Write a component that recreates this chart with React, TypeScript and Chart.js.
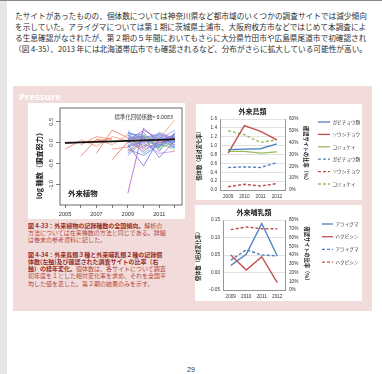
import React, { useEffect, useRef } from 'react';
import { Chart, registerables } from 'chart.js';

Chart.register(...registerables);

const JP = '"Noto Sans CJK JP", "Noto Sans", sans-serif';
const LATIN = '"Liberation Sans", "DejaVu Sans", sans-serif';

// ---------------- 本文 ----------------
const bodyLines = [
  'たサイトがあったものの、個体数については神奈川県など都市域のいくつかの調査サイトでは減少傾向',
  'を示していた。アライグマについては第１期に茨城県土浦市、大阪府枚方市などではじめて本調査によ',
  'る生息確認がなされたが、第２期の５年間においてもさらに大分県竹田市や広島県尾道市で初確認され',
  '（図 4-35）、2013 年には北海道帯広市でも確認されるなど、分布がさらに拡大している可能性が高い。',
];

// ---------------- 図 4-33：外来植物 ----------------
const plantTickYears = [2005, 2006, 2007, 2008, 2009, 2010, 2011, 2012];
const plantTickYearLabels = ['2005', '', '2007', '', '2009', '', '2011', ''];
const plantYTicks = [-1.0, -0.5, 0.0, 0.5];
const plantYTickLabels = ['-1.0', '-0.5', '0.0', '0.5'];
const plantAxisTitle = 'log 種数（調査努力）';
const plantCoefText = '標準化回帰係数= 0.0083';
const plantGroupLabel = '外来植物';

// 全国傾向（回帰直線）
const plantTrendYears = [2005, 2012];
const plantTrendValues = [0.0, 0.085];

// 第1期のサイト：開始年と各年の値
const firstPeriodStarts = [2005, 2005, 2006, 2006, 2007, 2007, 2008, 2008, 2006];
const firstPeriodValues = [
  [-0.15, 0.05],
  [-0.02, 0.02, 0.05, 0.1],
  [-0.32, 0.08, 0.02],
  [0.08, -0.08, 0.15, 0.05],
  [-0.25, 0.3, 0.12],
  [0.1, -0.05, 0.2],
  [-0.4, 0.02],
  [-0.15, -0.1, 0.05],
  [-0.05, 0.15, 0.08],
];
const firstPeriodColors = ['#ee7a68', '#f08a70', '#ec7060', '#f29a7c', '#ee7866', '#f4a482', '#ea6c5c', '#f09478', '#f2886c'];

// 第2期のサイト（2009〜2012年）
const secondPeriodYears = [2009, 2010, 2011, 2012];
const secondPeriodValues = [
  [-1.2, 0.35, 0.0, 0.1],
  [-0.05, -0.55, 0.1, 0.0],
  [0.1, 0.15, -0.35, 0.05],
  [0.2, 0.05, 0.1, -0.1],
  [-0.25, 0.1, -0.05, 0.15],
  [0.05, -0.2, 0.05, 0.2],
  [0.3, 0.0, 0.2, -0.15],
  [-0.1, 0.2, -0.15, 0.05],
  [0.15, -0.1, 0.25, 0.1],
  [-0.2, -0.05, 0.05, -0.2],
  [0.0, 0.25, -0.2, 0.25],
  [0.1, -0.15, 0.0, 0.12],
  [-0.3, 0.05, 0.15, -0.05],
  [0.25, 0.1, -0.1, 0.2],
  [-0.05, 0.0, 0.1, 0.3],
  [0.05, 0.1, 0.1, 0.55],
  [0.1, 0.15, 0.05, -0.1],
  [-0.1, 0.05, 0.2, 0.1],
  [0.2, -0.25, 0.0, 0.05],
  [0.05, 0.3, 0.1, -0.05],
  [-0.15, -0.3, -0.05, 0.15],
  [0.12, 0.0, -0.25, -0.2],
  [0.0, 0.12, 0.18, 0.08],
  [-0.08, 0.08, -0.12, 0.18],
  [0.18, 0.02, 0.08, 0.14],
  [-0.12, 0.16, 0.02, -0.08],
  [0.08, -0.06, -0.1, 0.22],
  [-0.2, 0.12, 0.22, 0.02],
  [0.22, 0.18, -0.04, -0.12],
  [0.02, -0.12, 0.14, 0.06],
];
const secondPeriodColors = [
  '#a45ad0', '#6a6ae8', '#7b70d8', '#8fa0e8', '#5a8ad8', '#a07ad8', '#7ac0e0', '#7cd07c',
  '#8c84e0', '#e0d060', '#6f7fe4', '#f08080', '#8080f0', '#6060c8', '#a0a0f0', '#f4a070',
  '#80c080', '#9a88dc', '#60c0d8', '#9070d0', '#7080e0', '#c090e0', '#70a0e0', '#a8d878',
  '#7868d8', '#8a9ce8', '#6c78d4', '#b07ed8', '#5f86d6', '#9494ec',
];

// ---------------- 図 4-34：外来鳥類 ----------------
const birdYears = ['2009', '2010', '2011', '2012'];
const gabichoCount = [0.91, 0.92, 0.93, 1.04];
const soushichoCount = [0.83, 1.45, 1.32, 1.13];
const kojukeiCount = [0.87, 0.87, 0.83, 0.86];
const gabichoSiteRate = [19.0, 19.5, 19.0, 23.2];
const soushichoSiteRate = [2.8, 4.8, 3.4, 5.4];
const kojukeiSiteRate = [50.1, 46.7, 40.2, 42.5];

// ---------------- 図 4-34：外来哺乳類 ----------------
const mammalYears = ['2009', '2010', '2011', '2012'];
const araigumaCount = [0.02, 0.052, 0.14, 0.047];
const hakubishinCount = [0.05, 0.007, 0.045, -0.029];
const araigumaSiteRate = [34, 46, 40, 39];
const hakubishinSiteRate = [69, 72, 70, 70];

const countAxisTitle = '個体数（相対変化率）';
const rateAxisTitle = '確認サイトの比率（%）';

const BLUE = '#4f81bd';
const RED = '#c0504d';
const GREEN = '#9bbb59';
const DASH = [3, 2];

// ---------------- captions ----------------
type Seg = { t: string; b: boolean };
const captionLines: Seg[][] = [
  [{ t: '図 4-33：外来植物の記録種数の全国傾向。', b: true }, { t: '解析の', b: false }],
  [{ t: '方法については在来種数の方法と同じである。詳細', b: false }],
  [{ t: 'は巻末の参考資料に記した。', b: false }],
  [],
  [{ t: '図 4-34：外来鳥類３種と外来哺乳類２種の記録個', b: true }],
  [{ t: '体数(左軸)及び確認された調査サイトの比率（右', b: true }],
  [{ t: '軸）の経年変化。', b: true }, { t: '個体数は、各サイトについて調査', b: false }],
  [{ t: '初年度を１とした相対変化率を求め、それを全国平', b: false }],
  [{ t: '均した値を表した。第２期の結果のみを示す。', b: false }],
];

// Legend drawn to the right of the plot, Excel style
const sideLegend = {
  id: 'sideLegend',
  afterDraw(chart: any, _args: any, o: any) {
    const { ctx } = chart;
    ctx.save();
    chart.data.datasets.forEach((ds: any, i: number) => {
      const y = o.y0 + i * o.step;
      ctx.strokeStyle = ds.borderColor;
      ctx.lineWidth = 1.3;
      ctx.setLineDash(ds.borderDash || []);
      ctx.beginPath();
      ctx.moveTo(o.x, y);
      ctx.lineTo(o.x + o.lineLen, y);
      ctx.stroke();
      ctx.setLineDash([]);
      ctx.fillStyle = '#333';
      ctx.font = `4.6px ${JP}`;
      ctx.textBaseline = 'middle';
      ctx.textAlign = 'left';
      ctx.fillText(ds.label, o.x + o.lineLen + 2.5, y);
    });
    ctx.restore();
  },
};

// Frame, rotated y labels and annotations for the R-style plot
const rFrame = {
  id: 'rFrame',
  afterDraw(chart: any, _args: any, o: any) {
    const { ctx, chartArea: a, scales } = chart;
    ctx.save();
    ctx.strokeStyle = '#444';
    ctx.lineWidth = 0.8;
    ctx.strokeRect(a.left, a.top, a.right - a.left, a.bottom - a.top);
    const ys = scales.y;
    ctx.fillStyle = '#333';
    ctx.textAlign = 'center';
    ctx.textBaseline = 'middle';
    ctx.font = `5.6px ${LATIN}`;
    ys.ticks.forEach((t: any, i: number) => {
      const py = ys.getPixelForValue(t.value);
      ctx.save();
      ctx.translate(o.tickLabelX, py);
      ctx.rotate(-Math.PI / 2);
      ctx.fillText(o.tickLabels[i], 0, 0);
      ctx.restore();
    });
    ctx.save();
    ctx.translate(o.titleX, o.titleY);
    ctx.rotate(-Math.PI / 2);
    ctx.font = `bold 7.2px ${JP}`;
    ctx.fillStyle = '#222';
    ctx.fillText(o.title, 0, 0);
    ctx.restore();
    ctx.font = `5.4px ${JP}`;
    ctx.fillStyle = '#333';
    ctx.textAlign = 'right';
    ctx.fillText(o.coef, a.right - 9, a.top + 9);
    ctx.font = `bold 7.4px ${JP}`;
    ctx.fillStyle = '#111';
    ctx.textAlign = 'left';
    ctx.fillText(o.group, a.left + 8, a.bottom - 12);
    ctx.restore();
  },
};

function plantConfig(): any {
  const datasets: any[] = [];
  datasets.push({
    data: plantTrendYears.map((x, i) => ({ x, y: plantTrendValues[i] })),
    borderColor: '#111',
    borderWidth: 1.8,
  });
  secondPeriodValues.forEach((vals, k) => {
    datasets.push({
      data: vals.map((y, i) => ({ x: secondPeriodYears[i], y })),
      borderColor: secondPeriodColors[k],
      borderWidth: 0.8,
    });
  });
  firstPeriodValues.forEach((vals, k) => {
    datasets.push({
      data: vals.map((y, i) => ({ x: firstPeriodStarts[k] + i, y })),
      borderColor: firstPeriodColors[k],
      borderWidth: 0.8,
    });
  });
  return {
    type: 'line',
    data: { datasets: datasets.map((d) => ({ ...d, pointRadius: 0, fill: false, tension: 0 })) },
    plugins: [rFrame],
    options: {
      responsive: false,
      animation: false,
      events: [],
      layout: { padding: { left: 0, right: 3, top: 5, bottom: 0 } },
      plugins: {
        legend: { display: false },
        tooltip: { enabled: false },
        rFrame: {
          tickLabelX: 23.5,
          tickLabels: plantYTickLabels,
          titleX: 11,
          titleY: 61,
          title: plantAxisTitle,
          coef: plantCoefText,
          group: plantGroupLabel,
        },
      },
      scales: {
        x: {
          type: 'linear',
          min: 2004.68,
          max: 2012.45,
          afterBuildTicks: (s: any) => {
            s.ticks = plantTickYears.map((v) => ({ value: v }));
          },
          ticks: {
            autoSkip: false,
            maxRotation: 0,
            padding: 3,
            font: { family: LATIN, size: 5.6 },
            color: '#333',
            callback: (_v: any, i: number) => plantTickYearLabels[i],
          },
          grid: { display: true, drawOnChartArea: false, drawTicks: true, tickLength: 3, color: '#444', lineWidth: 0.7 },
          border: { display: false },
          afterFit: (s: any) => {
            s.height = 14;
          },
        },
        y: {
          min: -1.48,
          max: 0.83,
          afterBuildTicks: (s: any) => {
            s.ticks = plantYTicks.map((v) => ({ value: v }));
          },
          ticks: { display: false },
          grid: { display: true, drawOnChartArea: false, drawTicks: true, tickLength: 4, color: '#444', lineWidth: 0.7 },
          border: { display: false },
          afterFit: (s: any) => {
            s.width = 32;
          },
        },
      },
    },
  };
}

type ExcelParams = {
  title: string;
  titlePad: [number, number];
  labels: string[];
  datasets: any[];
  leftMin: number;
  leftMax: number;
  leftStep: number;
  leftDigits: number;
  rightMax: number;
  leftWidth: number;
  rightWidth: number;
  padRight: number;
  xHeight: number;
  legend: { x: number; y0: number; step: number; lineLen: number };
};

function excelConfig(p: ExcelParams): any {
  const tickFont = { family: LATIN, size: 4.7 };
  const titleFont = { family: JP, size: 5.2, weight: 'bold' as const };
  return {
    type: 'line',
    data: {
      labels: p.labels,
      datasets: p.datasets.map((d) => ({ ...d, pointRadius: 0, borderWidth: 1.4, fill: false, tension: 0 })),
    },
    plugins: [sideLegend],
    options: {
      responsive: false,
      animation: false,
      events: [],
      layout: { padding: { left: 0, right: p.padRight, top: 0, bottom: 0 } },
      plugins: {
        legend: { display: false },
        tooltip: { enabled: false },
        title: {
          display: true,
          text: p.title,
          fullSize: false,
          color: '#222',
          font: { family: JP, size: 7, weight: 'bold' },
          padding: { top: p.titlePad[0], bottom: p.titlePad[1] },
        },
        sideLegend: p.legend,
      },
      scales: {
        x: {
          type: 'category',
          offset: true,
          grid: { display: true, drawOnChartArea: false, drawTicks: false },
          border: { display: true, color: '#8c8c8c', width: 0.9 },
          ticks: { font: tickFont, color: '#333', padding: 4, maxRotation: 0, autoSkip: false },
          afterFit: (s: any) => {
            s.height = p.xHeight;
          },
        },
        y: {
          position: 'left',
          min: p.leftMin,
          max: p.leftMax,
          ticks: {
            stepSize: p.leftStep,
            font: tickFont,
            color: '#333',
            padding: 3,
            callback: (v: any) => Number(v).toFixed(p.leftDigits),
          },
          grid: { color: '#d9d9d9', lineWidth: 0.8, drawTicks: false },
          border: { display: true, color: '#8c8c8c', width: 0.9 },
          title: { display: true, text: countAxisTitle, font: titleFont, color: '#222', padding: 0 },
          afterFit: (s: any) => {
            s.width = p.leftWidth;
          },
        },
        y1: {
          position: 'right',
          min: 0,
          max: p.rightMax,
          ticks: {
            stepSize: 10,
            font: tickFont,
            color: '#333',
            padding: 4,
            callback: (v: any) => `${v}%`,
          },
          grid: { drawOnChartArea: false, drawTicks: false },
          border: { display: true, color: '#8c8c8c', width: 0.9 },
          title: { display: true, text: rateAxisTitle, font: titleFont, color: '#222', padding: 0 },
          afterFit: (s: any) => {
            s.width = p.rightWidth;
          },
        },
      },
    },
  };
}

function birdConfig() {
  return excelConfig({
    title: '外来鳥類',
    titlePad: [3.5, 3.1],
    labels: birdYears,
    datasets: [
      { label: 'ガビチョウ類', data: gabichoCount, borderColor: BLUE, yAxisID: 'y' },
      { label: 'ソウシチョウ', data: soushichoCount, borderColor: RED, yAxisID: 'y' },
      { label: 'コジュケイ', data: kojukeiCount, borderColor: GREEN, yAxisID: 'y' },
      { label: 'ガビチョウ類', data: gabichoSiteRate, borderColor: BLUE, borderDash: DASH, yAxisID: 'y1' },
      { label: 'ソウシチョウ', data: soushichoSiteRate, borderColor: RED, borderDash: DASH, yAxisID: 'y1' },
      { label: 'コジュケイ', data: kojukeiSiteRate, borderColor: GREEN, borderDash: DASH, yAxisID: 'y1' },
    ],
    leftMin: 0,
    leftMax: 1.6,
    leftStep: 0.2,
    leftDigits: 1,
    rightMax: 60,
    leftWidth: 24,
    rightWidth: 24,
    padRight: 53,
    xHeight: 10,
    legend: { x: 122, y0: 18, step: 12.4, lineLen: 12 },
  });
}

function mammalConfig() {
  return excelConfig({
    title: '外来哺乳類',
    titlePad: [2.8, 3.8],
    labels: mammalYears,
    datasets: [
      { label: 'アライグマ', data: araigumaCount, borderColor: BLUE, yAxisID: 'y' },
      { label: 'ハクビシン', data: hakubishinCount, borderColor: RED, yAxisID: 'y' },
      { label: 'アライグマ', data: araigumaSiteRate, borderColor: BLUE, borderDash: DASH, yAxisID: 'y1' },
      { label: 'ハクビシン', data: hakubishinSiteRate, borderColor: RED, borderDash: DASH, yAxisID: 'y1' },
    ],
    leftMin: -0.05,
    leftMax: 0.15,
    leftStep: 0.05,
    leftDigits: 2,
    rightMax: 80,
    leftWidth: 28,
    rightWidth: 25,
    padRight: 52,
    xHeight: 11,
    legend: { x: 127, y0: 19, step: 12.7, lineLen: 11 },
  });
}

function ChartCanvas({ width, height, build }: { width: number; height: number; build: () => any }) {
  const ref = useRef<HTMLCanvasElement | null>(null);
  useEffect(() => {
    if (!ref.current) return;
    const chart = new Chart(ref.current, build());
    return () => chart.destroy();
  }, []);
  return <canvas ref={ref} width={width} height={height} style={{ width, height, display: 'block' }} />;
}

const abs = (left: number, top: number, width: number, height: number, extra: React.CSSProperties = {}): React.CSSProperties => ({
  position: 'absolute',
  left,
  top,
  width,
  height,
  ...extra,
});

export default function App() {
  return (
    <div style={abs(0, 0, 382, 374, { overflow: 'hidden', background: '#ffffff', fontFamily: JP })}>
      <div style={abs(0, 0, 7, 374, { background: '#e6e6e6' })} />
      <div style={abs(0, 0, 382, 1, { background: '#8a8a8a' })} />

      {bodyLines.map((t, i) => (
        <div
          key={i}
          style={{
            position: 'absolute',
            left: i === 3 ? 14 : 15,
            top: 9.5 + i * 11,
            fontSize: 7.67,
            lineHeight: '11px',
            whiteSpace: 'nowrap',
            color: '#2e2e2e',
          }}
        >
          {t}
        </div>
      ))}

      <div style={abs(13, 86, 359, 225, { background: '#f2dcdb' })} />
      <div
        style={{
          position: 'absolute',
          left: 19,
          top: 91,
          fontFamily: '"Open Sans", "Noto Sans", sans-serif',
          fontWeight: 700,
          fontSize: 9.6,
          lineHeight: '12px',
          color: '#ffffff',
        }}
      >
        Pressure
      </div>

      <div style={abs(28, 103, 157, 116, { background: '#ffffff' })}>
        <ChartCanvas width={157} height={116} build={plantConfig} />
      </div>

      {captionLines.map((segs, i) => (
        <div
          key={i}
          style={{
            position: 'absolute',
            left: 28,
            top: 221.5 + i * 7.25,
            fontSize: 6,
            lineHeight: '7px',
            whiteSpace: 'nowrap',
            color: '#b04848',
          }}
        >
          {segs.map((s, k) => (
            <span key={k} style={{ fontWeight: s.b ? 700 : 400, color: s.b ? '#982c2c' : '#b04848' }}>
              {s.t}
            </span>
          ))}
        </div>
      ))}

      <div style={abs(196, 104, 166, 96, { background: '#ffffff' })}>
        <ChartCanvas width={166} height={96} build={birdConfig} />
      </div>
      <div style={abs(195, 205, 167, 96, { background: '#ffffff' })}>
        <ChartCanvas width={167} height={96} build={mammalConfig} />
      </div>

      <div
        style={{
          position: 'absolute',
          left: 187,
          top: 365,
          fontFamily: LATIN,
          fontSize: 7,
          lineHeight: '9px',
          color: '#333',
        }}
      >
        29
      </div>
    </div>
  );
}
